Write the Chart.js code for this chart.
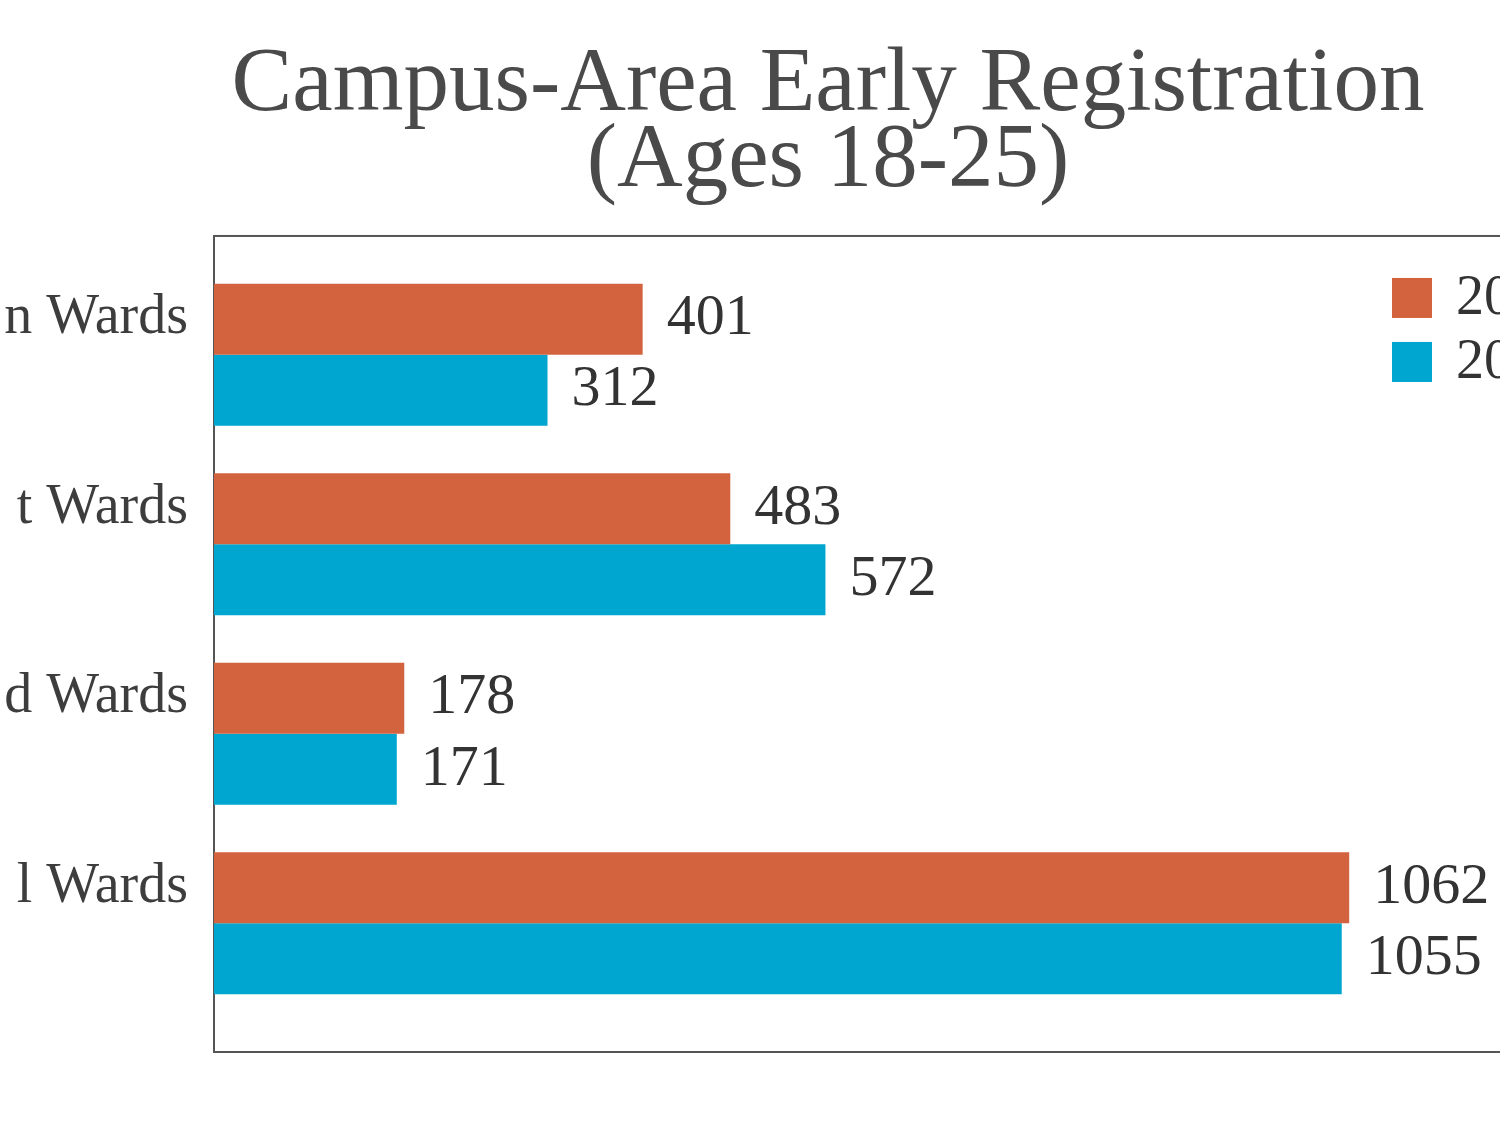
<!DOCTYPE html>
<html>
<head>
<meta charset="utf-8">
<script src="https://cdn.jsdelivr.net/npm/chart.js@4.4.1/dist/chart.umd.min.js"></script>
<style>
  html, body { margin: 0; padding: 0; background: #ffffff; overflow: hidden; width: 1500px; height: 1125px; }
  #wrap { position: absolute; left: 0; top: 0; width: 1664px; height: 1125px; }
</style>
</head>
<body>
<div id="wrap"><canvas id="c" width="1664" height="1125"></canvas></div>
<script>
const categories = ['n Wards', 't Wards', 'd Wards', 'l Wards'];
const seriesNames = ['20', '20'];
const seriesA = [401, 483, 178, 1062];
const seriesB = [312, 572, 171, 1055];
const titleLines = ['Campus-Area Early Registration', '(Ages 18-25)'];

const ORANGE = '#D3633F';
const BLUE = '#00A6CF';
const SERIF = "'Liberation Serif', 'DejaVu Serif', serif";

const framePlugin = {
  id: 'frame',
  beforeDatasetsDraw(chart) {
    const a = chart.chartArea, ctx = chart.ctx;
    ctx.save();
    ctx.strokeStyle = '#555555';
    ctx.lineWidth = 2;
    ctx.strokeRect(a.left, a.top - 24, a.right - a.left, (a.bottom + 34) - (a.top - 24));
    ctx.restore();
  }
};

const valueLabels = {
  id: 'valueLabels',
  afterDatasetsDraw(chart) {
    const ctx = chart.ctx;
    ctx.save();
    ctx.font = '58px ' + SERIF;
    ctx.fillStyle = '#333333';
    ctx.textAlign = 'left';
    ctx.textBaseline = 'middle';
    chart.data.datasets.forEach((ds, di) => {
      const meta = chart.getDatasetMeta(di);
      meta.data.forEach((bar, i) => {
        ctx.fillText(String(ds.data[i]), bar.x + 24, bar.y);
      });
    });
    ctx.restore();
  }
};

const boxLegend = {
  id: 'boxLegend',
  afterDraw(chart) {
    const ctx = chart.ctx;
    const a = chart.chartArea;
    ctx.save();
    ctx.font = '56px ' + SERIF;
    ctx.textAlign = 'left';
    ctx.textBaseline = 'middle';
    chart.data.datasets.forEach((ds, di) => {
      const bx = 1392, by = a.top + 18 + di * 64;
      ctx.fillStyle = ds.backgroundColor;
      ctx.fillRect(bx, by, 40, 40);
      ctx.fillStyle = '#333333';
      ctx.fillText(ds.label, bx + 64, by + 21);
    });
    ctx.restore();
  }
};

new Chart(document.getElementById('c'), {
  type: 'bar',
  data: {
    labels: categories,
    datasets: [
      { label: seriesNames[0], data: seriesA, backgroundColor: ORANGE, borderWidth: 0 },
      { label: seriesNames[1], data: seriesB, backgroundColor: BLUE, borderWidth: 0 }
    ]
  },
  options: {
    indexAxis: 'y',
    responsive: false,
    animation: false,
    devicePixelRatio: 1,
    categoryPercentage: 0.75,
    barPercentage: 1.0,
    layout: { padding: { top: 0, right: 8, bottom: 107, left: 0 } },
    plugins: {
      legend: { display: false },
      tooltip: { enabled: false },
      title: {
        display: true,
        text: titleLines,
        color: '#4a4a4a',
        font: { family: SERIF, size: 91, weight: 'normal', lineHeight: 0.835 },
        padding: { top: 48, bottom: 60 }
      }
    },
    scales: {
      x: { display: false, min: 0, max: 1349 },
      y: {
        afterFit(scale) { scale.width = 214; },
        grid: { display: false, drawTicks: false },
        border: { display: false },
        ticks: {
          color: '#3d3d3d',
          font: { family: SERIF, size: 56 },
          padding: 26,
          labelOffset: -36
        }
      }
    }
  },
  plugins: [framePlugin, valueLabels, boxLegend]
});
</script>
</body>
</html>
